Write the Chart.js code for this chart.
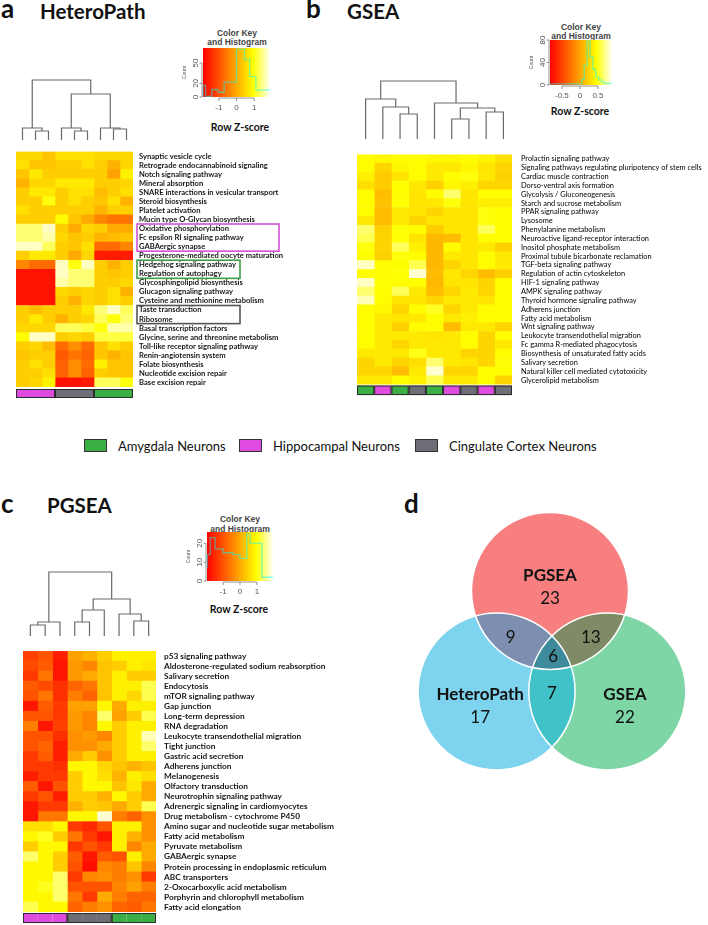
<!DOCTYPE html>
<html>
<head>
<meta charset="utf-8">
<script src="https://cdn.jsdelivr.net/npm/chart.js@4.4.1/dist/chart.umd.min.js"></script>
<style>
  body { margin: 0; background: #fff; }
  #fig { position: relative; width: 708px; height: 925px; overflow: hidden; font-family: Lato, sans-serif; color: #111; }
  #fig canvas { position: absolute; }
  .t { position: absolute; line-height: 1; white-space: nowrap; }
  .l { transform: translateY(-50%); }
  .c { transform: translate(-50%, -50%); }
  .panel { font-weight: bold; font-size: 26px; }
  .title { font-weight: bold; font-size: 20.5px; }
  .keyttl { font-family: "Liberation Sans", Arial, sans-serif; font-weight: bold; font-size: 8.5px; color: #444; }
  .zlab { font-weight: bold; font-size: 10.5px; }
  .box { position: absolute; width: 23px; height: 13px; box-sizing: border-box; border: 1px solid #333; }
  .leg { font-size: 13px; }
</style>
</head>
<body>
<div id="fig">
  <div class="t l panel" style="left:1px;top:8px">a</div>
  <div class="t l title" style="left:40px;top:10.9px">HeteroPath</div>
  <div class="t l panel" style="left:306px;top:8px">b</div>
  <div class="t l title" style="left:347px;top:10.9px">GSEA</div>
  <div class="t l panel" style="left:1px;top:503px">c</div>
  <div class="t l title" style="left:47px;top:505.4px">PGSEA</div>
  <div class="t l panel" style="left:404px;top:503px">d</div>

  <div class="t c keyttl" style="left:237px;top:33px">Color Key</div>
  <div class="t c keyttl" style="left:237px;top:42px">and Histogram</div>
  <div class="t c zlab" style="left:240px;top:127px">Row Z-score</div>
  <div class="t c keyttl" style="left:581px;top:27px">Color Key</div>
  <div class="t c keyttl" style="left:581px;top:36px">and Histogram</div>
  <div class="t c zlab" style="left:580px;top:111px">Row Z-score</div>
  <div class="t c keyttl" style="left:240px;top:519px">Color Key</div>
  <div class="t c keyttl" style="left:240px;top:529px">and Histogram</div>
  <div class="t c zlab" style="left:239px;top:609px">Row Z-score</div>

  <div class="box" style="left:84px;top:439px;background:#3cae46"></div>
  <div class="t l leg" style="left:118px;top:445.5px">Amygdala Neurons</div>
  <div class="box" style="left:239px;top:439px;background:#df4bdf"></div>
  <div class="t l leg" style="left:273px;top:445.5px">Hippocampal Neurons</div>
  <div class="box" style="left:415px;top:439px;background:#6e6e76"></div>
  <div class="t l leg" style="left:449px;top:445.5px">Cingulate Cortex Neurons</div>

  <canvas id="dendA" width="117" height="62" style="left:16px;top:78px"></canvas>
  <canvas id="heatA" width="340" height="259" style="left:16px;top:141px"></canvas>
  <canvas id="keyA" width="94" height="78" style="left:178px;top:38px"></canvas>

  <canvas id="dendB" width="155" height="60" style="left:357px;top:79px"></canvas>
  <canvas id="heatB" width="351" height="257" style="left:357px;top:141px"></canvas>
  <canvas id="keyB" width="89" height="74" style="left:525px;top:30px"></canvas>

  <canvas id="dendC" width="133" height="66" style="left:23px;top:570px"></canvas>
  <canvas id="heatC" width="345" height="287" style="left:23px;top:638px"></canvas>
  <canvas id="keyC" width="93" height="78" style="left:182px;top:522px"></canvas>

  <canvas id="venn" width="300" height="280" style="left:400px;top:500px"></canvas>
</div>

<script>
// ---------- data ----------
// sample group of each heatmap column (left to right)
const groupsA = ['Hippocampal', 'Hippocampal', 'Hippocampal', 'Cingulate', 'Cingulate', 'Cingulate', 'Amygdala', 'Amygdala', 'Amygdala'];
const groupsB = ['Amygdala', 'Hippocampal', 'Amygdala', 'Cingulate', 'Amygdala', 'Hippocampal', 'Cingulate', 'Hippocampal', 'Cingulate'];
const groupsC = ['Hippocampal', 'Hippocampal', 'Hippocampal', 'Cingulate', 'Cingulate', 'Cingulate', 'Amygdala', 'Amygdala', 'Amygdala'];

const pathwaysA = [
  'Synaptic vesicle cycle', 'Retrograde endocannabinoid signaling', 'Notch signaling pathway', 'Mineral absorption',
  'SNARE interactions in vesicular transport', 'Steroid biosynthesis', 'Platelet activation', 'Mucin type O-Glycan biosynthesis',
  'Oxidative phosphorylation', 'Fc epsilon RI signaling pathway', 'GABAergic synapse', 'Progesterone-mediated oocyte maturation',
  'Hedgehog signaling pathway', 'Regulation of autophagy', 'Glycosphingolipid biosynthesis', 'Glucagon signaling pathway',
  'Cysteine and methionine metabolism', 'Taste transduction', 'Ribosome', 'Basal transcription factors',
  'Glycine, serine and threonine metabolism', 'Toll-like receptor signaling pathway', 'Renin-angiotensin system',
  'Folate biosynthesis', 'Nucleotide excision repair', 'Base excision repair'
];
// row z-scores, one row per pathway, one column per sample
const zA = [
  [0.5, 0.5, 0.3, 0.6, 0.6, 0.6, 0.5, 0.5, 0.5],
  [0.6, 0.3, 0.3, 0.4, 0.4, 0.6, 0.4, 0.1, 0.5],
  [0.3, 0.7, 0.4, 0.4, 0.4, 0.4, 0.4, -0.1, 0.8],
  [0.1, 0.5, 0.5, 0.7, 0.7, 0.7, 0.4, 0.4, 0.5],
  [0.4, 0.7, 0.7, 0.4, 0.6, 0.6, 0.2, 0.4, 0.6],
  [0.4, 0.4, 1.0, 0.4, 0.6, 0.4, 0.3, 0.6, 0.1],
  [0.6, 0.4, 0.4, 0.4, 0.4, 0.4, 0.1, 0.4, 0.4],
  [0.4, 0.4, 0.4, 0.9, 0.3, 0.0, -0.4, -0.6, -0.6],
  [1.4, 1.4, 1.7, 0.4, 0.0, 0.5, 0.4, 0.0, 0.0],
  [1.4, 1.4, 1.6, 0.5, 0.3, 0.4, 0.1, 0.2, 0.3],
  [1.7, 1.7, 1.3, 0.4, 0.3, 0.6, -0.7, -0.7, -0.4],
  [0.4, 0.7, 0.7, 0.4, 0.0, 0.5, -1.6, -1.6, -1.6],
  [-0.4, -0.7, -0.7, 1.7, 1.0, 1.7, 0.4, 0.1, 0.4],
  [-1.7, -1.7, -1.7, 1.7, 1.4, 1.4, 0.4, 0.3, 0.4],
  [-1.7, -1.7, -1.7, 1.6, 1.4, 1.4, 0.4, 0.4, 0.5],
  [-1.7, -1.7, -1.7, 0.5, 0.4, 0.5, 0.4, 0.6, 0.1],
  [-1.7, -1.7, -1.7, 0.4, 0.1, 0.5, 0.4, 0.6, 0.4],
  [0.4, 0.2, 0.4, 0.4, 0.4, 0.7, 1.4, 1.7, 1.3],
  [0.4, 0.7, 0.4, 0.1, 0.4, 0.5, 1.3, 1.0, 1.4],
  [0.5, 0.5, 0.5, 1.3, 1.3, 1.2, 1.0, 1.6, 1.6],
  [0.9, 1.7, 1.7, 0.4, 0.5, 0.4, 1.2, 1.2, 1.2],
  [0.4, 0.5, 0.2, -0.7, -0.3, -0.7, 0.3, 0.6, 0.4],
  [0.3, 0.4, 0.4, -0.9, -0.6, -0.8, 0.3, 0.1, 0.3],
  [0.4, 0.6, 0.4, -0.8, -0.3, -0.7, 0.8, 0.3, 0.3],
  [0.4, 0.4, 0.6, -0.8, -0.3, -0.8, 0.4, 0.3, 0.3],
  [0.4, 0.5, 0.8, -1.7, -1.7, -1.6, 1.3, 1.3, 1.0]
];

const pathwaysB = [
  'Prolactin signaling pathway', 'Signaling pathways regulating pluripotency of stem cells', 'Cardiac muscle contraction',
  'Dorso-ventral axis formation', 'Glycolysis / Gluconeogenesis', 'Starch and sucrose metabolism', 'PPAR signaling pathway',
  'Lysosome', 'Phenylalanine metabolism', 'Neuroactive ligand-receptor interaction', 'Inositol phosphate metabolism',
  'Proximal tubule bicarbonate reclamation', 'TGF-beta signaling pathway', 'Regulation of actin cytoskeleton',
  'HIF-1 signaling pathway', 'AMPK signaling pathway', 'Thyroid hormone signaling pathway', 'Adherens junction',
  'Fatty acid metabolism', 'Wnt signaling pathway', 'Leukocyte transendothelial migration', 'Fc gamma R-mediated phagocytosis',
  'Biosynthesis of unsaturated fatty acids', 'Salivary secretion', 'Natural killer cell mediated cytotoxicity', 'Glycerolipid metabolism'
];
const zB = [
  [0.45, 0.42, 0.45, 0.45, 0.42, 0.42, 0.45, 0.40, 0.30],
  [0.45, 0.25, 0.42, 0.45, 0.35, 0.35, 0.42, 0.33, 0.25],
  [0.38, 0.20, 0.33, 0.45, 0.35, 0.45, 0.48, 0.35, 0.22],
  [0.30, 0.20, 0.45, 0.35, 0.22, 0.42, 0.38, 0.25, 0.25],
  [0.45, 0.12, 0.45, 0.33, 0.45, 0.65, 0.33, 0.45, 0.45],
  [0.45, 0.15, 0.47, 0.33, 0.35, 0.48, 0.33, 0.38, 0.38],
  [0.45, 0.12, 0.35, 0.33, 0.25, 0.33, 0.33, 0.48, 0.45],
  [0.35, 0.12, 0.35, 0.25, 0.33, 0.33, 0.33, 0.48, 0.45],
  [0.65, 0.22, 0.47, 0.45, 0.20, 0.33, 0.33, 0.62, 0.45],
  [0.60, 0.25, 0.47, 0.33, 0.10, 0.12, 0.33, 0.45, 0.45],
  [0.48, 0.25, 0.62, 0.38, 0.10, 0.45, 0.33, 0.35, 0.22],
  [0.45, 0.22, 0.48, 0.45, 0.10, 0.35, 0.33, 0.45, 0.35],
  [0.80, 0.45, 0.45, 0.60, 0.10, 0.25, 0.33, 0.45, 0.35],
  [0.45, 0.45, 0.47, 0.82, 0.12, 0.35, 0.25, 0.12, 0.22],
  [0.80, 0.47, 0.45, 0.45, 0.10, 0.33, 0.33, 0.25, 0.45],
  [0.65, 0.45, 0.62, 0.35, 0.12, 0.25, 0.35, 0.25, 0.45],
  [0.78, 0.45, 0.33, 0.33, 0.25, 0.35, 0.35, 0.33, 0.45],
  [0.45, 0.42, 0.25, 0.45, 0.52, 0.25, 0.35, 0.45, 0.45],
  [0.45, 0.35, 0.33, 0.35, 0.45, 0.35, 0.38, 0.45, 0.45],
  [0.45, 0.35, 0.22, 0.45, 0.45, 0.12, 0.35, 0.35, 0.25],
  [0.45, 0.35, 0.35, 0.35, 0.33, 0.35, 0.45, 0.25, 0.45],
  [0.45, 0.35, 0.25, 0.35, 0.35, 0.35, 0.45, 0.25, 0.35],
  [0.35, 0.35, 0.35, 0.50, 0.35, 0.35, 0.25, 0.25, 0.45],
  [0.25, 0.35, 0.25, 0.30, 0.65, 0.35, 0.33, 0.25, 0.48],
  [0.25, 0.25, 0.12, 0.35, 0.82, 0.25, 0.25, 0.45, 0.45],
  [0.35, 0.35, 0.45, 0.40, 0.60, 0.35, 0.35, 0.45, 0.25]
];

const pathwaysC = [
  'p53 signaling pathway', 'Aldosterone-regulated sodium reabsorption', 'Salivary secretion', 'Endocytosis',
  'mTOR signaling pathway', 'Gap junction', 'Long-term depression', 'RNA degradation', 'Leukocyte transendothelial migration',
  'Tight junction', 'Gastric acid secretion', 'Adherens junction', 'Melanogenesis', 'Olfactory transduction',
  'Neurotrophin signaling pathway', 'Adrenergic signaling in cardiomyocytes', 'Drug metabolism - cytochrome P450',
  'Amino sugar and nucleotide sugar metabolism', 'Fatty acid metabolism', 'Pyruvate metabolism', 'GABAergic synapse',
  'Protein processing in endoplasmic reticulum', 'ABC transporters', '2-Oxocarboxylic acid metabolism',
  'Porphyrin and chlorophyll metabolism', 'Fatty acid elongation'
];
const zC = [
  [-1.2, -1.0, -1.6, -0.1, 0.1, 0.4, 0.8, 0.8, 0.8],
  [-1.1, -0.9, -1.7, -0.2, -0.4, 0.3, 0.4, 0.8, 0.7],
  [-1.3, -0.6, -1.7, -0.2, 0.0, 0.3, 0.8, 0.4, 0.4],
  [-0.9, -1.1, -1.4, -0.8, -0.6, 0.3, 0.8, 0.8, 1.3],
  [-1.0, -0.6, -1.4, -0.5, -0.8, 0.3, 0.8, 0.5, 1.3],
  [-1.7, -0.9, -1.3, -0.1, -0.1, 0.9, 0.0, 0.8, 0.8],
  [-1.0, -1.0, -1.3, -0.2, -0.4, 1.4, -0.1, 0.4, 1.3],
  [-0.5, -1.7, -1.2, -0.2, -0.4, 0.9, 0.4, 0.8, 0.8],
  [-1.0, -1.0, -1.4, -0.3, -0.2, -0.4, 0.4, 0.8, 1.7],
  [-1.0, -0.8, -1.6, -0.3, -0.3, 0.0, 0.4, 0.8, 1.4],
  [-1.3, -0.9, -1.6, 0.0, 0.4, -0.3, 0.4, 0.8, 0.8],
  [-1.3, -1.3, -1.4, 0.9, 0.9, 0.5, 0.3, 0.1, 0.3],
  [-1.6, -1.3, -1.3, 0.4, 0.9, 0.6, 0.1, 0.8, 0.6],
  [-0.9, -1.7, -1.0, 0.4, 0.9, 0.9, 0.3, 0.7, 0.0],
  [-1.3, -1.0, -1.6, 0.4, 0.4, 0.1, 0.9, 0.4, 0.0],
  [-1.7, -1.3, -1.3, 0.1, 0.4, 0.3, 0.0, 0.4, 1.3],
  [-1.7, -0.6, -0.6, 0.9, 0.9, 1.8, -0.5, -0.8, -0.3],
  [0.6, 0.6, 0.9, -1.3, -1.5, -1.0, 0.8, 0.8, -0.3],
  [0.9, 1.1, 0.4, -0.6, -1.3, -1.7, 0.8, 0.1, -0.3],
  [0.4, 0.9, 0.9, -1.3, -1.0, -1.3, 0.8, -0.4, 0.0],
  [1.4, 0.9, 0.4, -0.9, -1.7, -0.9, -1.0, 0.8, 0.0],
  [0.9, 0.9, 0.4, -1.0, -1.8, -0.4, -0.5, 0.3, -0.4],
  [0.9, 0.9, 1.4, -1.3, -0.4, -0.3, -0.5, -0.3, -1.3],
  [0.9, 1.1, 1.4, -1.0, -1.0, -1.0, -0.4, -0.1, -0.5],
  [0.9, 0.9, 1.4, -0.6, -1.3, 0.0, -0.5, -0.8, -0.8],
  [1.3, 0.9, 0.9, -0.8, -0.5, -0.3, -0.8, -0.9, -0.6]
];

// column dendrograms, R-style merge list: [left, right, height]; -k = leaf k, +m = merge m
const dendroA = [[-2, -3, 9], [-1, 1, 12], [-5, -6, 9], [-4, 3, 12], [-8, -9, 11], [-7, 5, 12], [4, 6, 46], [2, 7, 60]];
const dendroB = [[-3, -4, 25], [-2, 1, 32], [-1, 2, 40], [-6, -7, 20], [-8, -9, 27], [4, 5, 31], [-5, 6, 36], [3, 7, 58]];
const dendroC = [[-1, -2, 11], [1, -3, 14], [-4, -5, 14], [3, -6, 26], [-8, -9, 15], [-7, 5, 22], [4, 6, 37], [2, 7, 64]];

// colour keys: z range, histogram bin edges and counts, axis ticks
const zRangeA = [-1.9, 1.9];
const histEdgesA = [-1.9, -1.75, -1.4, -1.05, -0.7, 0, 0.45, 0.75, 1.1, 1.45, 1.9];
const histCountsA = [0, 17, 1, 11, 7, 22, 70, 55, 30, 10];
const zTicksA = [-1, 0, 1];
const countTicksA = [0, 20, 50];

const zRangeB = [-0.83, 0.89];
const histEdgesB = [-0.83, 0.05, 0.12, 0.2, 0.28, 0.36, 0.44, 0.52, 0.6, 0.68, 0.76, 0.89];
const histCountsB = [0, 2, 10, 35, 78, 50, 28, 14, 9, 5, 3];
const zTicksB = [-0.5, 0, 0.5];
const countTicksB = [0, 40, 80];

const zRangeC = [-1.95, 1.95];
const histEdgesC = [-1.94, -1.76, -1.47, -1.0, -0.4, 0.0, 0.4, 0.6, 1.3, 1.6, 1.94];
const histCountsC = [7, 14, 23, 17, 15, 14, 12, 25, 20, 2];
const zTicksC = [-1, 0, 1];
const countTicksC = [0, 10, 20];

// Venn counts
const vennSets = ['PGSEA', 'HeteroPath', 'GSEA'];
const vennRegions = ['PGSEA', 'HeteroPath', 'GSEA', 'PGSEA+HeteroPath', 'PGSEA+GSEA', 'HeteroPath+GSEA', 'all'];
const vennCounts = [23, 17, 22, 9, 13, 7, 6];

// ---------- styles / layout ----------
const groupColor = { Amygdala: '#3cae46', Hippocampal: '#df4bdf', Cingulate: '#6e6e76' };
const labelBoxesA = [
  { from: 'Oxidative phosphorylation', to: 'GABAergic synapse', width: 142, color: '#d452d4' },
  { from: 'Hedgehog signaling pathway', to: 'Regulation of autophagy', width: 103, color: '#3d9e45' },
  { from: 'Taste transduction', to: 'Ribosome', width: 103, color: '#555' }
];
// circle centres in units of the circle radius
const vennRadiusPx = 78.5;
const vennCenters = [{ x: 0, y: 0.637 }, { x: -0.68, y: -0.643 }, { x: 0.73, y: -0.643 }];
const vennFill = ['#f77f7f', '#7ed3ee', '#7ed6a6'];
const vennPairFill = ['#7d8fb0', '#7e8b66', '#40c2c8'];
const vennTripleFill = '#3e8c9b';
const vennLabelPos = [
  { x: 0, y: 0.70, name: true }, { x: -0.89, y: -0.82, name: true }, { x: 0.955, y: -0.82, name: true },
  { x: -0.50, y: 0.05 }, { x: 0.52, y: 0.05 }, { x: 0.025, y: -0.675 }, { x: 0.04, y: -0.20 }
];

Chart.defaults.font.family = 'Lato';
Chart.defaults.animation = false;

// R heat.colors-like palette, t in [0,1]
function heatColor(t) {
  t = Math.max(0, Math.min(1, t));
  if (t <= 0.75) return `rgb(255,${Math.round(255 * t / 0.75)},0)`;
  const s = 1 - 0.97 * (t - 0.75) / 0.25;
  return `rgb(255,255,${Math.round(255 * (1 - s))})`;
}

const baseOptions = {
  responsive: false,
  devicePixelRatio: 1,
  events: [],
  plugins: { legend: { display: false }, tooltip: { enabled: false } }
};

function drawHeatmap(id, pathways, z, range, groups, cfg) {
  const span = range[1] - range[0];
  const datasets = groups.map((g, j) => ({
    data: pathways.map(() => 1),
    backgroundColor: z.map(row => heatColor((row[j] - range[0]) / span)),
    borderWidth: 0,
    barPercentage: 1,
    categoryPercentage: 1
  }));

  const sideBar = {
    id: 'sideBar',
    afterDatasetsDraw(chart) {
      const { ctx, chartArea, scales: { x } } = chart;
      const top = chartArea.bottom + cfg.barGap;
      ctx.save();
      groups.forEach((g, j) => {
        const x0 = x.getPixelForValue(j), x1 = x.getPixelForValue(j + 1);
        ctx.fillStyle = groupColor[g];
        ctx.fillRect(x0, top, x1 - x0, cfg.barH);
      });
      ctx.strokeStyle = '#2b2b2b';
      ctx.lineWidth = 1;
      let s = 0;
      for (let j = 1; j <= groups.length; j++) {
        if (j === groups.length || groups[j] !== groups[s]) {
          const x0 = x.getPixelForValue(s), x1 = x.getPixelForValue(j);
          ctx.strokeRect(x0 + 0.5, top + 0.5, x1 - x0 - 1, cfg.barH - 1);
          s = j;
        }
      }
      ctx.restore();
    }
  };

  const boxes = {
    id: 'labelBoxes',
    afterDraw(chart) {
      if (!cfg.boxes) return;
      const { ctx, chartArea, scales: { y } } = chart;
      const band = y.getPixelForValue(1) - y.getPixelForValue(0);
      ctx.save();
      ctx.lineWidth = 1.6;
      cfg.boxes.forEach(b => {
        const top = y.getPixelForValue(pathways.indexOf(b.from)) - band / 2;
        const bot = y.getPixelForValue(pathways.indexOf(b.to)) + band / 2;
        ctx.strokeStyle = b.color;
        ctx.strokeRect(chartArea.right + 4, top, b.width, bot - top);
      });
      ctx.restore();
    }
  };

  return new Chart(document.getElementById(id), {
    type: 'bar',
    data: { labels: pathways, datasets },
    options: {
      ...baseOptions,
      indexAxis: 'y',
      layout: { padding: { bottom: cfg.padBottom }, autoPadding: false },
      scales: {
        x: { stacked: true, min: 0, max: groups.length, display: false },
        y: {
          stacked: true,
          position: 'right',
          grid: { display: false, drawTicks: false },
          border: { display: false },
          ticks: { autoSkip: false, padding: cfg.labelPad, color: cfg.color || '#161616', font: cfg.font },
          afterFit: s => { s.width = cfg.axisW; }
        }
      }
    },
    plugins: [sideBar, boxes]
  });
}

function drawDendrogram(id, merges, leaves, yMax) {
  const pos = [], hgt = [], segs = [];
  const xOf = r => (r < 0 ? -r - 1 : pos[r - 1]);
  const hOf = r => (r < 0 ? 0 : hgt[r - 1]);
  merges.forEach(([a, b, h], k) => {
    const xa = xOf(a), xb = xOf(b);
    segs.push([{ x: xa, y: hOf(a) }, { x: xa, y: h }, { x: xb, y: h }, { x: xb, y: hOf(b) }]);
    pos[k] = (xa + xb) / 2;
    hgt[k] = h;
  });
  return new Chart(document.getElementById(id), {
    type: 'scatter',
    data: {
      datasets: segs.map(s => ({
        data: s, showLine: true, pointRadius: 0, borderColor: '#6a6a6a', borderWidth: 1.2,
        borderJoinStyle: 'miter', clip: false
      }))
    },
    options: {
      ...baseOptions,
      layout: { padding: 0 },
      scales: {
        x: { type: 'linear', min: -0.5, max: leaves - 0.5, display: false },
        y: { min: 0, max: yMax, display: false }
      }
    }
  });
}

function drawKey(id, range, edges, counts, zTicks, countTicks, yMax) {
  const pts = edges.map((e, i) => ({ x: e, y: counts[Math.min(i, counts.length - 1)] }));
  const keyAxes = {
    id: 'keyAxes',
    beforeDatasetsDraw(chart) {
      const { ctx, chartArea: a } = chart;
      const g = ctx.createLinearGradient(a.left, 0, a.right, 0);
      for (let i = 0; i <= 60; i++) g.addColorStop(i / 60, heatColor(i / 60));
      ctx.save();
      ctx.fillStyle = g;
      ctx.fillRect(a.left, a.top, a.right - a.left, a.bottom - a.top);
      ctx.restore();
    },
    afterDraw(chart) {
      const { ctx, chartArea: a, scales: { x, y } } = chart;
      ctx.save();
      ctx.strokeStyle = '#777';
      ctx.fillStyle = '#555';
      ctx.lineWidth = 0.8;
      ctx.font = '8px "Liberation Sans", Arial, sans-serif';
      // x axis
      const xs = zTicks.map(v => x.getPixelForValue(v));
      ctx.beginPath();
      ctx.moveTo(xs[0], a.bottom + 1);
      ctx.lineTo(xs[xs.length - 1], a.bottom + 1);
      xs.forEach(px => { ctx.moveTo(px, a.bottom + 1); ctx.lineTo(px, a.bottom + 4); });
      ctx.stroke();
      ctx.textAlign = 'center';
      ctx.textBaseline = 'top';
      zTicks.forEach((v, i) => ctx.fillText(String(v), xs[i], a.bottom + 7));
      // y axis (count), labels rotated like R
      const ys = countTicks.map(v => y.getPixelForValue(v));
      ctx.beginPath();
      ctx.moveTo(a.left - 1, ys[0]);
      ctx.lineTo(a.left - 1, ys[ys.length - 1]);
      ys.forEach(py => { ctx.moveTo(a.left - 1, py); ctx.lineTo(a.left - 3.5, py); });
      ctx.stroke();
      ctx.textBaseline = 'alphabetic';
      countTicks.forEach((v, i) => {
        ctx.save();
        ctx.translate(a.left - 5, ys[i]);
        ctx.rotate(-Math.PI / 2);
        ctx.fillText(String(v), 0, 0);
        ctx.restore();
      });
      ctx.font = '5px "Liberation Sans", Arial, sans-serif';
      ctx.translate(a.left - 17, (a.top + a.bottom) / 2);
      ctx.rotate(-Math.PI / 2);
      ctx.fillText('Count', 0, 0);
      ctx.restore();
    }
  };
  return new Chart(document.getElementById(id), {
    type: 'line',
    data: {
      datasets: [{
        data: pts, stepped: 'after', borderColor: 'rgba(0,255,255,0.5)', borderWidth: 1.3,
        pointRadius: 0, fill: false, clip: false
      }]
    },
    options: {
      ...baseOptions,
      layout: { padding: { left: 25, bottom: 19, top: 10, right: 2 }, autoPadding: false },
      scales: {
        x: { type: 'linear', min: range[0], max: range[1], display: false },
        y: { min: 0, max: yMax, display: false }
      }
    },
    plugins: [keyAxes]
  });
}

function drawVenn(id) {
  const overlaps = {
    id: 'vennOverlaps',
    afterDatasetsDraw(chart) {
      const { ctx, scales: { x, y } } = chart;
      const r = vennRadiusPx;
      const c = vennCenters.map(p => ({ x: x.getPixelForValue(p.x), y: y.getPixelForValue(p.y) }));
      const circle = i => { ctx.beginPath(); ctx.arc(c[i].x, c[i].y, r, 0, Math.PI * 2); };
      const pairs = [[0, 1], [0, 2], [1, 2]];
      ctx.save();
      pairs.forEach(([i, j], k) => {
        ctx.save();
        circle(i); ctx.clip();
        circle(j); ctx.fillStyle = vennPairFill[k]; ctx.fill();
        ctx.restore();
      });
      ctx.save();
      circle(0); ctx.clip();
      circle(1); ctx.clip();
      circle(2); ctx.fillStyle = vennTripleFill; ctx.fill();
      ctx.restore();
      ctx.strokeStyle = '#fff';
      ctx.lineWidth = 1.5;
      [0, 1, 2].forEach(i => { circle(i); ctx.stroke(); });

      ctx.fillStyle = '#111';
      ctx.textAlign = 'center';
      ctx.textBaseline = 'middle';
      vennLabelPos.forEach((p, k) => {
        const px = x.getPixelForValue(p.x), py = y.getPixelForValue(p.y);
        if (p.name) {
          ctx.font = 'bold 17px Lato';
          ctx.fillText(vennSets[k], px, py - 11);
          ctx.font = '17px Lato';
          ctx.fillText(String(vennCounts[k]), px, py + 12);
        } else {
          ctx.font = '17px Lato';
          ctx.fillText(String(vennCounts[k]), px, py);
        }
      });
      ctx.restore();
    }
  };
  const el = document.getElementById(id);
  const halfW = el.width / 2 / vennRadiusPx;
  return new Chart(el, {
    type: 'bubble',
    data: {
      labels: vennSets,
      datasets: [{
        data: vennCenters.map(p => ({ x: p.x, y: p.y, r: vennRadiusPx })),
        backgroundColor: vennFill,
        borderWidth: 0,
        clip: false
      }]
    },
    options: {
      ...baseOptions,
      layout: { padding: 0, autoPadding: false },
      scales: {
        x: { min: -halfW, max: halfW, display: false },
        y: { min: -1.771, max: 1.796, display: false }
      }
    },
    plugins: [overlaps]
  });
}

// ---------- build ----------
drawDendrogram('dendA', dendroA, 9, 62);
drawHeatmap('heatA', pathwaysA, zA, zRangeA, groupsA, {
  axisW: 223, labelPad: 6, padBottom: 13, barGap: 2, barH: 9,
  font: { size: 7.6, weight: 'bold' }, boxes: labelBoxesA
});
drawKey('keyA', zRangeA, histEdgesA, histCountsA, zTicksA, countTicksA, 72);

drawDendrogram('dendB', dendroB, 9, 60);
drawHeatmap('heatB', pathwaysB, zB, zRangeB, groupsB, {
  axisW: 196, labelPad: 9, padBottom: 12, barGap: 1, barH: 9.5,
  font: { size: 7.4, weight: 'normal' }, color: '#000'
});
drawKey('keyB', zRangeB, histEdgesB, histCountsB, zTicksB, countTicksB, 80);

drawDendrogram('dendC', dendroC, 9, 66);
drawHeatmap('heatC', pathwaysC, zC, zRangeC, groupsC, {
  axisW: 212, labelPad: 8, padBottom: 12, barGap: 1, barH: 10,
  font: { size: 8.3, weight: 'bold' }
});
drawKey('keyC', zRangeC, histEdgesC, histCountsC, zTicksC, countTicksC, 26);

drawVenn('venn');
</script>
</body>
</html>
